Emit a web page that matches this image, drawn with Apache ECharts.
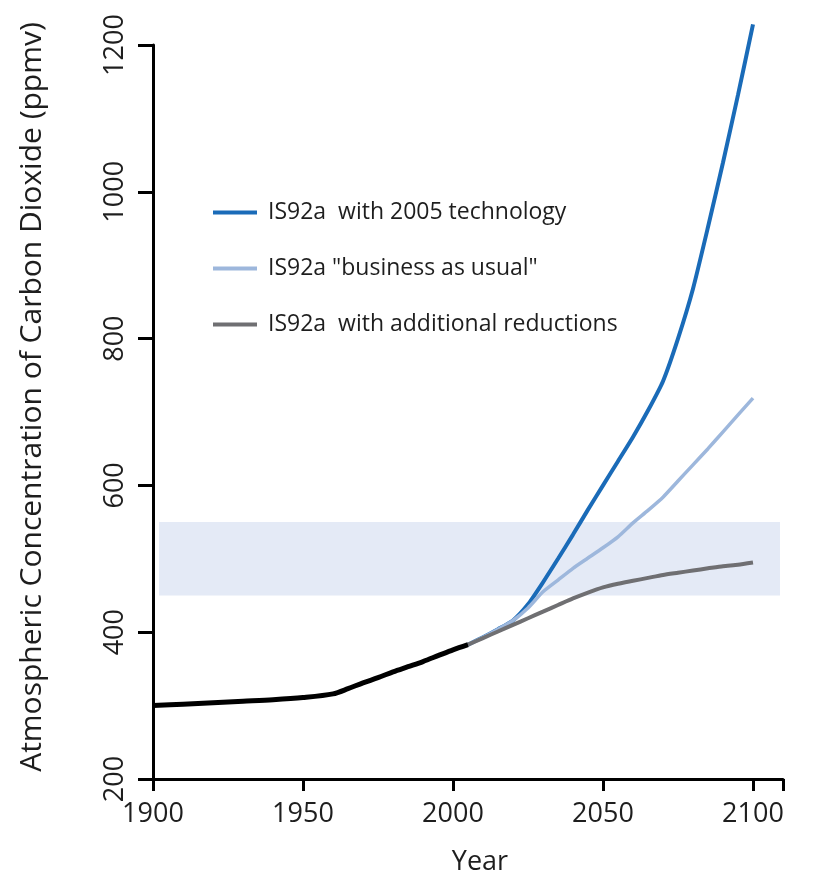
<!DOCTYPE html>
<html>
<head>
<meta charset="utf-8">
<style>
  html, body { margin: 0; padding: 0; background: #ffffff; }
  #chart { width: 825px; height: 879px; }
</style>
<script src="https://cdn.jsdelivr.net/npm/echarts@6/dist/echarts.min.js"></script>
</head>
<body>
<div id="chart"></div>
<script>
// Observed atmospheric CO2 (ppmv)
const histYears = [1900, 1910, 1920, 1930, 1940, 1950, 1960, 1965, 1970, 1975, 1980, 1985, 1990, 1995, 2000, 2005];
const histValues = [300, 302, 304, 306, 308, 311, 316, 323, 331, 338, 346, 353, 360, 368, 376, 383];

// IS92a projections, 2005-2100 in 5-year steps
const projYears = [2005, 2010, 2015, 2020, 2025, 2030, 2035, 2040, 2045, 2050, 2055, 2060, 2065, 2070, 2075, 2080, 2085, 2090, 2095, 2100];
const tech2005 = [383, 393, 404, 416, 438, 468, 500, 533, 567, 600, 633, 666, 702, 742, 800, 868, 952, 1040, 1132, 1228];
const businessAsUsual = [383, 393, 404, 416, 433, 455, 471, 487, 501, 515, 530, 549, 566, 584, 606, 628, 650, 673, 696, 719];
const additionalReductions = [383, 392, 401, 410, 419, 428, 437, 446, 454, 461, 466, 470, 474, 478, 481, 484, 487, 490, 492, 495];

const seriesNames = ['IS92a  with 2005 technology', 'IS92a "business as usual"', 'IS92a  with additional reductions'];

// Shaded stabilisation range (ppmv) and its horizontal extent
const bandRange = [450, 550];
const bandYears = [1902, 2109];

const xTicks = [1900, 1950, 2000, 2050, 2100];
const yTicks = [200, 400, 600, 800, 1000, 1200];

const pair = (xs, ys) => xs.map((x, i) => [x, ys[i]]);

const font = '"Open Sans", "Noto Sans", sans-serif';
const chart = echarts.init(document.getElementById('chart'), null, { renderer: 'canvas' });

chart.setOption({
  backgroundColor: '#ffffff',
  animation: false,
  grid: { left: 153, top: 45, width: 630, height: 734, containLabel: false, outerBoundsMode: 'none' },
  legend: {
    orient: 'vertical',
    left: 208,
    top: 196,
    itemWidth: 44,
    itemHeight: 4,
    itemGap: 33,
    icon: 'rect',
    data: seriesNames,
    textStyle: { fontFamily: font, fontSize: 23, color: '#1e1e1e', padding: [0, 0, 0, 6] }
  },
  xAxis: {
    type: 'value',
    min: xTicks[0],
    max: 2110,
    interval: 50,
    name: 'Year',
    nameLocation: 'middle',
    nameGap: 70,
    nameTextStyle: { fontFamily: font, fontSize: 27, color: '#1e1e1e', padding: [0, 0, 0, 24] },
    axisLine: { show: true, lineStyle: { color: '#000000', width: 3 } },
    axisTick: { show: true, length: 12, lineStyle: { color: '#000000', width: 3 } },
    axisLabel: { fontFamily: font, fontSize: 27, color: '#1e1e1e', margin: 22,
      formatter: v => (xTicks.indexOf(v) >= 0 ? String(v) : '') },
    splitLine: { show: false }
  },
  yAxis: {
    type: 'value',
    min: yTicks[0],
    max: yTicks[yTicks.length - 1],
    interval: 200,
    name: 'Atmospheric Concentration of Carbon Dioxide (ppmv)',
    nameLocation: 'middle',
    nameRotate: 90,
    nameGap: 106,
    nameTextStyle: { fontFamily: font, fontSize: 30, color: '#1e1e1e', padding: [0, 0, 0, 30] },
    axisLine: { show: true, lineStyle: { color: '#000000', width: 3 } },
    axisTick: { show: true, length: 15, lineStyle: { color: '#000000', width: 3 } },
    axisLabel: { fontFamily: font, fontSize: 27, color: '#1e1e1e', rotate: 90, margin: 24,
      formatter: v => String(v) },
    splitLine: { show: false }
  },
  series: [
    {
      name: seriesNames[0],
      type: 'line',
      data: pair(projYears, tech2005),
      showSymbol: false,
      smooth: 0.2,
      clip: false,
      lineStyle: { color: '#1a6bb8', width: 4 },
      itemStyle: { color: '#1a6bb8' },
      z: 2,
      markArea: {
        silent: true,
        itemStyle: { color: '#e4eaf6' },
        data: [[{ xAxis: bandYears[0], yAxis: bandRange[0] }, { xAxis: bandYears[1], yAxis: bandRange[1] }]]
      }
    },
    {
      name: seriesNames[1],
      type: 'line',
      data: pair(projYears, businessAsUsual),
      showSymbol: false,
      smooth: 0.2,
      lineStyle: { color: '#9db7dc', width: 3.5 },
      itemStyle: { color: '#9db7dc' },
      z: 3
    },
    {
      name: seriesNames[2],
      type: 'line',
      data: pair(projYears, additionalReductions),
      showSymbol: false,
      smooth: 0.2,
      lineStyle: { color: '#6f6f72', width: 4 },
      itemStyle: { color: '#6f6f72' },
      z: 4
    },
    {
      name: 'Observed',
      type: 'line',
      data: pair(histYears, histValues),
      showSymbol: false,
      smooth: 0.3,
      lineStyle: { color: '#000000', width: 5 },
      itemStyle: { color: '#000000' },
      z: 5
    }
  ]
});
</script>
</body>
</html>
